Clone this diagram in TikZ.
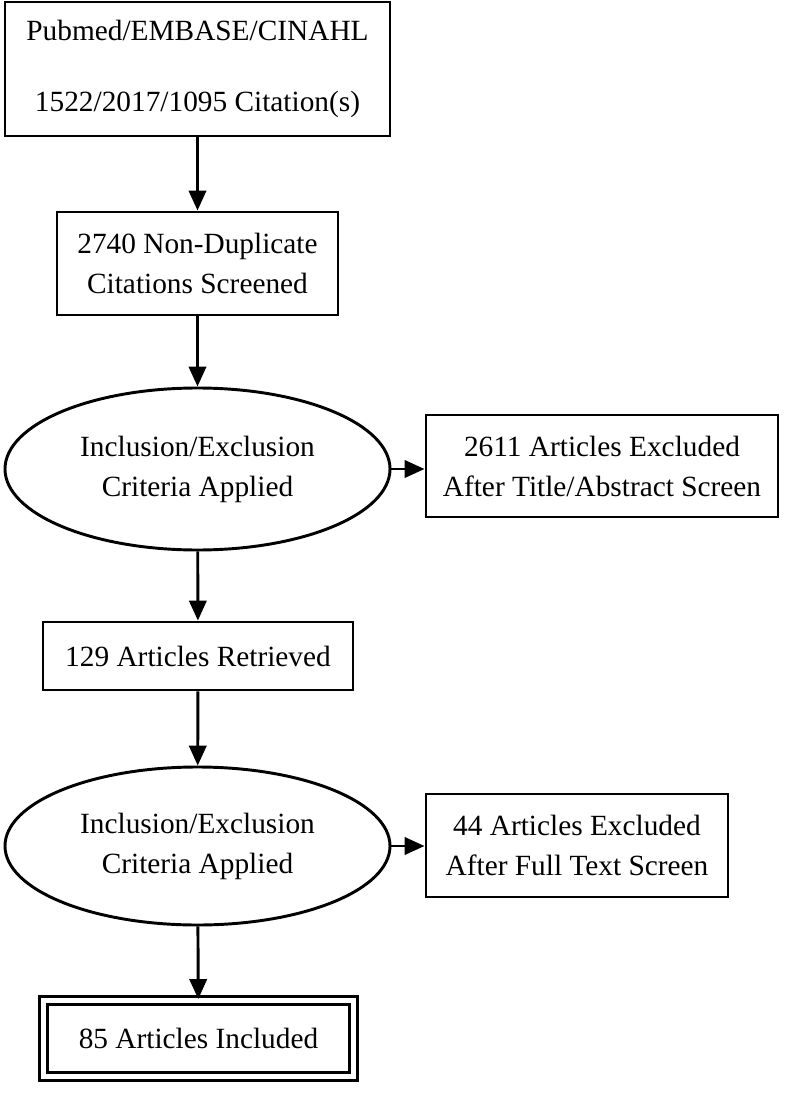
\documentclass[tikz,border=0pt]{standalone}
\usepackage{fontspec}
\setmainfont{Liberation Serif}
\usetikzlibrary{arrows.meta,shapes.geometric}

\begin{document}
\begin{tikzpicture}[x=0.75pt,y=-0.75pt,
  every node/.style={font=\fontsize{22}{30}\selectfont,align=center,line width=2.2pt},
  box/.style={draw,rectangle,inner sep=0pt},
  oval/.style={draw,ellipse,inner sep=0pt},
  >={Triangle[length=15pt,width=13pt]},
  line width=2.2pt]
\useasboundingbox (0,0) rectangle (786,1094);

\node[box,minimum width=288.75pt,minimum height=100.5pt] (src) at (197.5,69)
  {Pubmed/EMBASE/CINAHL\\[23pt]1522/2017/1095 Citation(s)};
\node[box,minimum width=210.75pt,minimum height=77.25pt] (nondup) at (197.5,263.5)
  {2740 Non-Duplicate\\Citations Screened};
\node[oval,minimum width=288.75pt,minimum height=121.5pt] (crit1) at (197.5,469)
  {Inclusion/Exclusion\\Criteria Applied};
\node[box,minimum width=264pt,minimum height=76.5pt] (excl1) at (602,466)
  {2611 Articles Excluded\\After Title/Abstract Screen};
\node[box,minimum width=232.5pt,minimum height=51pt] (retr) at (198,656)
  {129 Articles Retrieved};
\node[oval,minimum width=288.75pt,minimum height=118.5pt] (crit2) at (197.5,846)
  {Inclusion/Exclusion\\Criteria Applied};
\node[box,minimum width=226.5pt,minimum height=77.25pt] (excl2) at (577,845.5)
  {44 Articles Excluded\\After Full Text Screen};
\node[box,double,double distance=3.5pt,minimum width=232.5pt,minimum height=57pt] (incl) at (198.5,1038.5)
  {85 Articles Included};

\draw[->] (src) -- (nondup);
\draw[->] (nondup) -- (crit1);
\draw[->] (crit1.east) -- (excl1.west |- crit1.east);
\draw[->] (crit1) -- (retr);
\draw[->] (retr) -- (crit2);
\draw[->] (crit2.east) -- (excl2.west |- crit2.east);
\draw[->] (crit2) -- (incl);
\end{tikzpicture}
\end{document}
